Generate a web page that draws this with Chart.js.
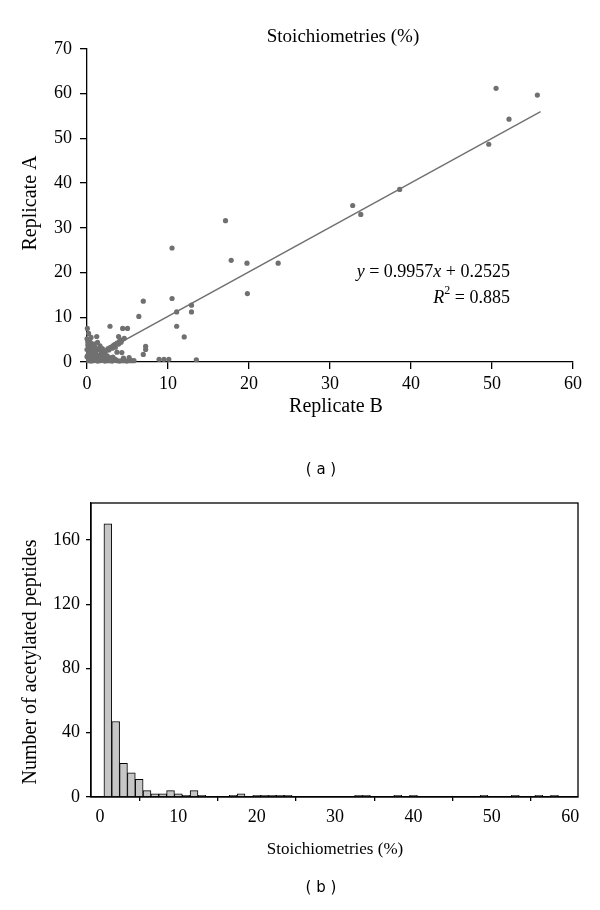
<!DOCTYPE html>
<html>
<head>
<meta charset="utf-8">
<script src="https://cdn.jsdelivr.net/npm/chart.js@4.4.0/dist/chart.umd.min.js"></script>
<style>
    body { margin: 0; background: #fff; width: 600px; height: 910px; overflow: hidden; position: relative; }
    canvas { position: absolute; left: 0; }
</style>
</head>
<body>
<canvas id="dispersao" width="600" height="430" style="top: 0;"></canvas>
<canvas id="histograma" width="600" height="480" style="top: 430px;"></canvas>
<script>
// (a) replicata B (x) contra replicata A (y), estequiometrias em %
const replicataB = [
    0.2, 0.5, 0.8, 1.0, 1.3, 1.6, 1.9, 2.2, 2.5, 2.8, 3.1, 3.4, 3.7, 4.0, 4.3, 4.6, 4.9, 5.2, 5.5, 5.8,
    0.3, 0.7, 1.1, 1.4, 1.8, 2.2, 2.6, 3.0, 3.5,
    0.1, 0.2, 0.4, 0.1, 0.6, 0.8, 0.5, 1.0, 1.2, 1.4, 0.3, 0.9, 1.6, 1.8, 0.7, 1.1, 0.2, 0.5, 1.3, 0.0, 0.0, 0.6, 1.5, 2.0, 1.9,
    0.0, 0.04, 0.2, 0.1, 0.5, 1.2, 3.9, 2.84, 4.4, 5.0,
    1.5, 1.8, 2.1, 2.4, 2.6, 2.9, 3.2, 3.4, 3.7, 4.0, 4.3, 4.6, 2.2, 2.7, 3.1, 3.5, 3.9, 4.2,
    3.7, 4.3, 2.5, 3.2, 4.5, 5.2, 2.9,
    6.95, 6.4, 7.24, 7.24, 6.95, 8.9, 9.5, 10.1, 13.5,
    10.5, 11.07, 11.07, 12.0, 12.9, 12.9,
    10.5, 17.1, 17.8, 19.75, 23.6, 19.8,
    32.8, 33.8, 38.6, 49.6, 50.5, 52.1, 55.6
];
const replicataA = [
    0.3, 0.2, 0.3, 0.4, 0.2, 0.3, 0.4, 0.2, 0.3, 0.3, 0.2, 0.4, 0.3, 0.2, 0.3, 0.3, 0.2, 0.3, 0.3, 0.3,
    1.0, 0.8, 1.1, 0.9, 1.2, 0.7, 0.9, 1.0, 0.6,
    1.5, 2.2, 3.0, 3.8, 1.8, 2.5, 4.2, 3.3, 1.6, 2.8, 4.8, 4.0, 3.6, 2.2, 1.3, 2.1, 0.6, 0.9, 4.4, 2.8, 1.2, 3.5, 1.2, 1.6, 3.0,
    5.2, 7.5, 6.4, 4.5, 5.5, 5.7, 5.7, 8.0, 7.5, 7.5,
    1.5, 2.0, 2.4, 2.6, 3.0, 3.3, 3.6, 3.9, 4.2, 4.6, 4.9, 5.3, 2.0, 2.7, 3.1, 3.3, 4.0, 4.4,
    2.2, 2.1, 1.4, 1.1, 0.9, 1.0, 0.6,
    13.6, 10.2, 3.5, 2.8, 1.7, 0.6, 0.6, 0.6, 0.5,
    14.2, 11.2, 8.0, 5.6, 12.7, 11.2,
    25.5, 31.6, 22.75, 22.1, 22.1, 15.3,
    35.0, 33.0, 38.6, 48.7, 61.2, 54.3, 59.7
];
// reta de ajuste y = 0.9957x + 0.2525
const ajusteX = [0, 56];
const ajusteY = [0.2525, 56.01];

// (b) histograma
const classes = [];
for (let i = 1; i <= 59; i++) classes.push(i);
const contagens = [
    170, 47, 21, 15, 11, 4, 2, 2, 4, 2, 1, 4, 1, 0, 0, 0, 1, 2, 0, 1,
    1, 1, 1, 1, 0, 0, 0, 0, 0, 0, 0, 0, 1, 1, 0, 0, 0, 1, 0, 1,
    0, 0, 0, 0, 0, 0, 0, 0, 1, 0, 0, 0, 1, 0, 0, 1, 0, 1, 0
];

const serif = 'Liberation Serif, DejaVu Serif, serif';

function texto(ctx, t, x, y, fonte, alinhar, rot) {
    ctx.save();
    ctx.font = fonte;
    ctx.fillStyle = '#000';
    ctx.textAlign = alinhar || 'center';
    ctx.textBaseline = 'middle';
    ctx.translate(x, y);
    if (rot) ctx.rotate(rot);
    ctx.fillText(t, 0, 0);
    ctx.restore();
}

const textosA = {
    id: 'textosA',
    afterDraw(chart) {
        const ctx = chart.ctx;
        texto(ctx, 'Stoichiometries (%)', 343, 37, '19px ' + serif);
        texto(ctx, 'Replicate B', 336, 407, '20px ' + serif);
        texto(ctx, 'Replicate A', 31, 203, '20px ' + serif, 'center', -Math.PI / 2);

        // equação, com y e x em itálico, alinhada à direita em x=510
        ctx.save();
        const partes = [['y', 'italic 18px '], [' = 0.9957', '18px '], ['x', 'italic 18px '], [' + 0.2525', '18px ']];
        let largura = 0;
        partes.forEach(p => { ctx.font = p[1] + serif; largura += ctx.measureText(p[0]).width; });
        let xx = 510 - largura;
        ctx.fillStyle = '#000';
        ctx.textBaseline = 'middle';
        partes.forEach(p => { ctx.font = p[1] + serif; ctx.fillText(p[0], xx, 272); xx += ctx.measureText(p[0]).width; });

        ctx.font = '18px ' + serif;
        const resto = ' = 0.885';
        const wResto = ctx.measureText(resto).width;
        ctx.font = 'italic 18px ' + serif;
        const wR = ctx.measureText('R').width;
        ctx.font = '12px ' + serif;
        const w2 = ctx.measureText('2').width;
        let x0 = 510 - wResto - w2 - wR;
        ctx.font = 'italic 18px ' + serif;
        ctx.fillText('R', x0, 298);
        ctx.font = '12px ' + serif;
        ctx.fillText('2', x0 + wR, 291);
        ctx.font = '18px ' + serif;
        ctx.fillText(resto, x0 + wR + w2, 298);
        ctx.restore();
    }
};

const textosB = {
    id: 'textosB',
    afterDraw(chart) {
        const ctx = chart.ctx;
        const a = chart.chartArea;
        ctx.save();
        ctx.strokeStyle = '#000';
        ctx.lineWidth = 1.3;
        ctx.strokeRect(a.left, a.top, a.right - a.left, a.bottom - a.top);
        ctx.restore();
        texto(ctx, '( a )', 321, 40, '15px DejaVu Sans, sans-serif');
        texto(ctx, '( b )', 321, 458, '15px DejaVu Sans, sans-serif');
        texto(ctx, 'Stoichiometries (%)', 335, 420, '17px ' + serif);
        texto(ctx, 'Number of acetylated peptides', 31, 232, '20px ' + serif, 'center', -Math.PI / 2);
    }
};

function eixo(min, max, passo, comp, pad, tam, extra) {
    return Object.assign({
        type: 'linear', min: min, max: max,
        ticks: { stepSize: passo, includeBounds: false, color: '#000', font: { family: serif, size: tam }, padding: pad },
        grid: { drawOnChartArea: false, drawTicks: true, tickLength: comp, color: '#000', lineWidth: 1.3 },
        border: { display: true, color: '#000', width: 1.3 }
    }, extra);
}

new Chart(document.getElementById('dispersao'), {
    type: 'scatter',
    data: {
        datasets: [
            {
                data: replicataB.map((b, i) => ({ x: b, y: replicataA[i] })),
                pointRadius: 2.6, pointBackgroundColor: '#707070', pointBorderWidth: 0,
                clip: false, order: 2
            },
            {
                type: 'line',
                data: ajusteX.map((x, i) => ({ x: x, y: ajusteY[i] })),
                borderColor: '#707070', borderWidth: 1.4, pointRadius: 0, fill: false, order: 1
            }
        ]
    },
    options: {
        responsive: false, animation: false,
        layout: { padding: { top: 49, right: 27, left: 0, bottom: 0 } },
        plugins: { legend: { display: false }, tooltip: { enabled: false } },
        scales: {
            x: eixo(0, 60, 10, 7, 4, 18, { afterFit: s => { s.height = 68; } }),
            y: eixo(0, 70, 10, 7, 8, 18, { afterFit: s => { s.width = 87; } })
        }
    },
    plugins: [textosA]
});

new Chart(document.getElementById('histograma'), {
    type: 'bar',
    data: {
        datasets: [{
            data: classes.map((c, i) => ({ x: c, y: contagens[i] })),
            backgroundColor: '#c6c6c6', borderColor: '#000', borderWidth: 1,
            barPercentage: 1, categoryPercentage: 1
        }]
    },
    options: {
        responsive: false, animation: false,
        layout: { padding: { top: 73, right: 22, left: 0, bottom: 0 } },
        plugins: { legend: { display: false }, tooltip: { enabled: false } },
        scales: {
            x: eixo(-1.15, 61, 10, 4, 5, 18, { offset: false, afterFit: s => { s.height = 113; } }),
            y: eixo(0, 183, 40, 5, 6, 18, { afterFit: s => { s.width = 91; } })
        }
    },
    plugins: [textosB]
});
</script>
</body>
</html>
